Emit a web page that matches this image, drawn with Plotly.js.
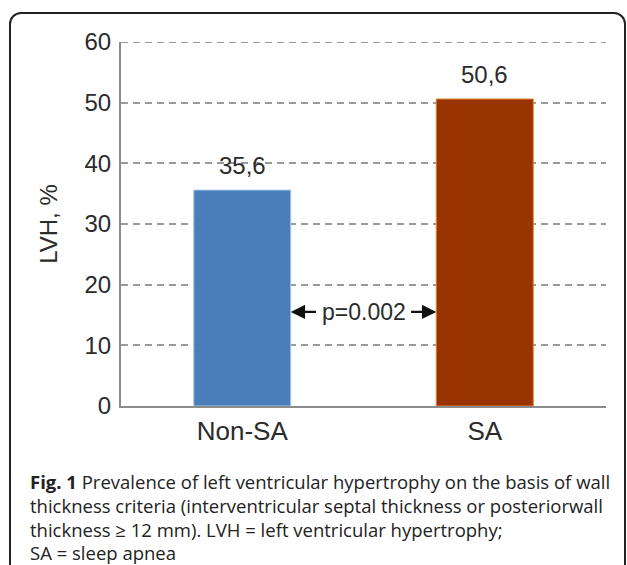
<!DOCTYPE html>
<html>
<head>
<meta charset="utf-8">
<script src="https://cdn.plot.ly/plotly-3.0.1.min.js"></script>
<style>
  html, body { margin: 0; padding: 0; width: 627px; height: 565px; overflow: hidden; background: #fff; }
  #frame { position: absolute; left: 9px; top: 12px; width: 617px; height: 620px;
           border: 2px solid #222; border-radius: 12px; box-sizing: border-box; }
  #chart { position: absolute; left: 0; top: 0; width: 627px; height: 565px; }
</style>
</head>
<body>
<div id="frame"></div>
<div id="chart"></div>
<script>
const categories = ['Non-SA', 'SA'];
const values = [35.6, 50.6];
const barColors = ['#4a7ebb', '#993300'];
const barEdgeColors = ['#a9cdea', '#e0812f'];
const yTickVals = [0, 10, 20, 30, 40, 50, 60];
const yTitle = 'LVH, %';
const pText = 'p=0.002';
const pLevel = 15.5;
const arrowTails = [0.31, 0.69];
const arrowHeads = [0.2, 0.8];
const captionLines = [
  '<b>Fig. 1</b> Prevalence of left ventricular hypertrophy on the basis of wall',
  'thickness criteria (interventricular septal thickness or posteriorwall',
  'thickness \u2265 12 mm). LVH = left ventricular hypertrophy;',
  'SA = sleep apnea'
];

// layout geometry (pixels)
const W = 627, H = 565;
const margin = {l: 121, r: 21, t: 42, b: 159};
const plotW = W - margin.l - margin.r;
const plotH = H - margin.t - margin.b;
const px2paperX = px => (px - margin.l) / plotW;
const py2paperY = py => (H - margin.b - py) / plotH;

const trace = {
  type: 'bar',
  x: categories,
  y: values,
  width: 0.4,
  marker: {color: barColors, line: {color: barEdgeColors, width: 1}},
  hoverinfo: 'none'
};

const annotations = [];
// value labels
categories.forEach((c, i) => {
  annotations.push({
    x: c, y: values[i], xref: 'x', yref: 'y',
    text: String(values[i].toFixed(1)).replace('.', ','),
    showarrow: false, yanchor: 'bottom', yshift: 9,
    font: {family: 'Liberation Sans, Arial, sans-serif', size: 24, color: '#2b2b2b'}
  });
});
// p-value arrows
for (let k = 0; k < 2; k++) {
  annotations.push({
    x: arrowHeads[k], y: pLevel, xref: 'x', yref: 'y',
    ax: arrowTails[k], ay: pLevel, axref: 'x', ayref: 'y',
    text: '', showarrow: true, arrowhead: 2, arrowsize: 1.3, arrowwidth: 2.2,
    arrowcolor: '#111', standoff: 0, startstandoff: 0
  });
}
annotations.push({
  x: 0.5, y: pLevel, xref: 'x', yref: 'y', text: pText, showarrow: false,
  font: {family: 'Liberation Sans, Arial, sans-serif', size: 23, color: '#2b2b2b'}
});
// caption
const captionY = [481, 505, 529, 552];
captionLines.forEach((t, i) => {
  annotations.push({
    xref: 'paper', yref: 'paper', x: px2paperX(28), y: py2paperY(captionY[i]),
    xanchor: 'left', yanchor: 'middle', align: 'left', showarrow: false, text: t,
    font: {family: 'Open Sans, Noto Sans, sans-serif', size: 18.5, color: '#222'}
  });
});

// top gridline (Plotly hides the grid line lying on the range edge)
const topTick = yTickVals[yTickVals.length - 1];
const shapes = [{
  type: 'line', xref: 'paper', yref: 'y', x0: 0, x1: 1, y0: topTick, y1: topTick,
  line: {color: '#9a9a9a', width: 2, dash: '7px,5px'}, layer: 'below'
}];

const layout = {
  width: W, height: H,
  margin: margin,
  paper_bgcolor: 'rgba(0,0,0,0)',
  plot_bgcolor: 'rgba(0,0,0,0)',
  showlegend: false,
  xaxis: {
    type: 'category',
    showgrid: false, zeroline: false,
    showline: true, linecolor: '#8c8c8c', linewidth: 2,
    ticks: '', ticklabelstandoff: 1,
    tickfont: {family: 'Liberation Sans, Arial, sans-serif', size: 26, color: '#2b2b2b'},
    fixedrange: true
  },
  yaxis: {
    range: [0, 60],
    tickvals: yTickVals,
    showgrid: true, gridcolor: '#9a9a9a', gridwidth: 2, griddash: '7px,5px',
    zeroline: false,
    showline: true, linecolor: '#8c8c8c', linewidth: 2,
    ticks: '', ticklabelstandoff: 3,
    tickfont: {family: 'Liberation Sans, Arial, sans-serif', size: 24, color: '#2b2b2b'},
    title: {text: yTitle, standoff: 20,
            font: {family: 'Liberation Sans, Arial, sans-serif', size: 24, color: '#2b2b2b'}},
    fixedrange: true
  },
  shapes: shapes,
  annotations: annotations
};

Plotly.newPlot('chart', [trace], layout, {displayModeBar: false, staticPlot: true});
</script>
</body>
</html>
